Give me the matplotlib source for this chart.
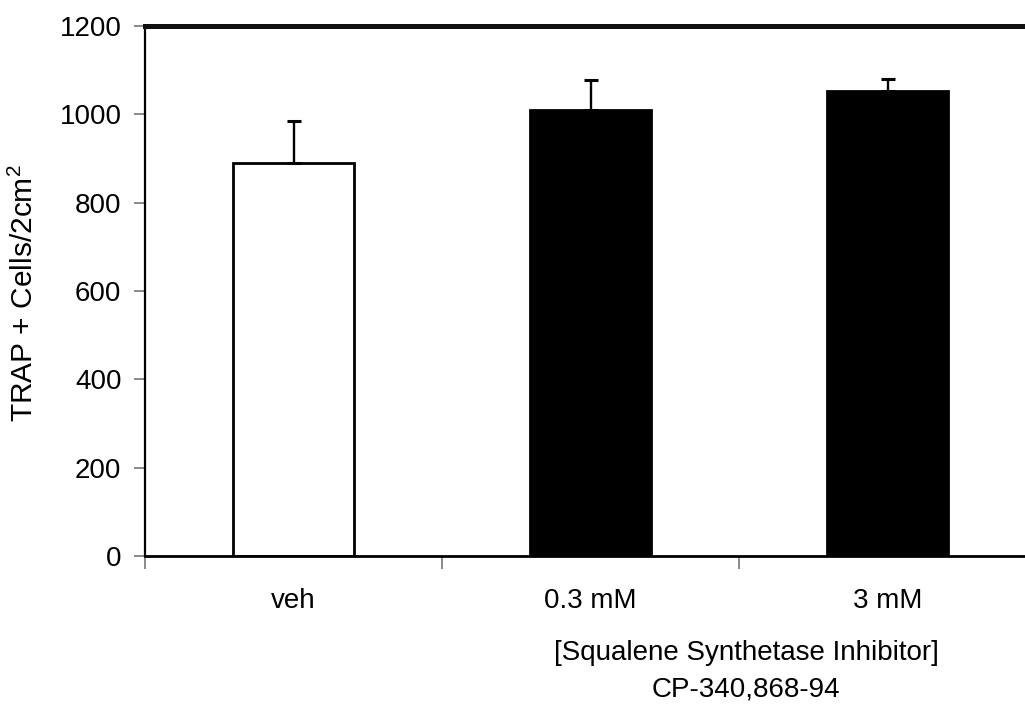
import matplotlib.pyplot as plt

plt.rcParams['font.family'] = ['Liberation Sans', 'DejaVu Sans']
plt.rcParams['mathtext.fontset'] = 'custom'
plt.rcParams['mathtext.rm'] = 'Liberation Sans'
plt.rcParams['mathtext.it'] = 'Liberation Sans'
plt.rcParams['mathtext.bf'] = 'Liberation Sans:bold'

groups = ['veh', '0.3 mM', '3 mM']
cells = [890, 1010, 1053]
err = [96, 67, 28]
colors = ['white', 'black', 'black']

fig = plt.figure(figsize=(10.25, 7.05), dpi=100)
ax = fig.add_axes([0.1415, 0.2113, 0.8693, 0.7518])

x = range(len(groups))
ax.bar(x, cells, width=0.405, color=colors, edgecolor='black', linewidth=2, zorder=2)
ax.errorbar(x, cells, yerr=[[0] * len(err), err], fmt='none', ecolor='black',
            elinewidth=1.7, capsize=4.8, capthick=2.2, zorder=3)

ax.set_xlim(-0.5, 2.5)
ax.set_ylim(0, 1200)
ax.set_yticks(range(0, 1201, 200))
ax.set_xticks(list(x))
ax.set_xticklabels(groups)
ax.set_xticks([-0.5, 0.5, 1.5], minor=True)
ax.tick_params(axis='x', which='major', length=0, pad=23, labelsize=20)
ax.tick_params(axis='x', which='minor', length=9, width=1.2, color='#777777', direction='out')
ax.tick_params(axis='y', length=8, width=1.2, color='#777777', pad=9, labelsize=20)

ax.spines['right'].set_visible(False)
ax.spines['left'].set_linewidth(1.6)
ax.spines['bottom'].set_linewidth(2)
ax.spines['top'].set_linewidth(3.6)
ax.spines['top'].set_color('#111111')

ax.set_ylabel('TRAP + Cells/2cm$^{\\mathrm{2}}$', fontsize=21.5)
ax.yaxis.label.set_va('center')
ax.yaxis.set_label_coords(-0.135, 0.496)

fig.text(746 / 1025, 1 - 653 / 705, '[Squalene Synthetase Inhibitor]', ha='center', va='center', fontsize=20)
fig.text(746 / 1025, 1 - 689 / 705, 'CP-340,868-94', ha='center', va='center', fontsize=20)

fig.savefig('out.png', dpi=100)
